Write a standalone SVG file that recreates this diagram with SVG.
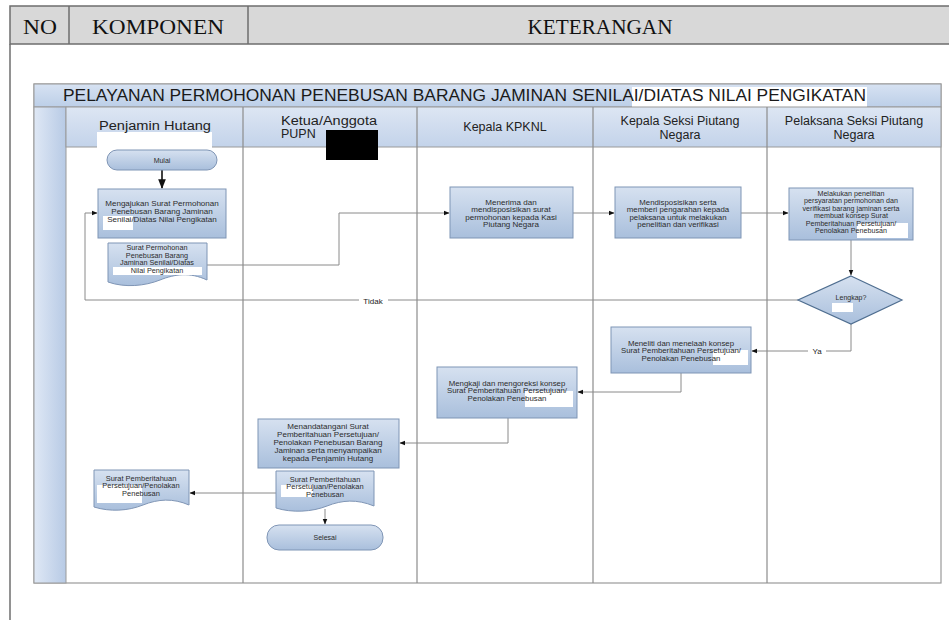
<svg xmlns="http://www.w3.org/2000/svg" width="949" height="620" viewBox="0 0 949 620">
<defs>
<linearGradient id="boxg" x1="0" y1="0" x2="0" y2="1"><stop offset="0" stop-color="#d6e1f0"/><stop offset="1" stop-color="#a9bfdc"/></linearGradient>
<linearGradient id="bandg" x1="0" y1="0" x2="0" y2="1"><stop offset="0" stop-color="#d7e2f2"/><stop offset="1" stop-color="#bccfe8"/></linearGradient>
<linearGradient id="laneg" x1="0" y1="0" x2="0" y2="1"><stop offset="0" stop-color="#dde6f3"/><stop offset="1" stop-color="#c3d3ea"/></linearGradient>
<linearGradient id="stripg" x1="0" y1="0" x2="1" y2="0"><stop offset="0" stop-color="#dfe8f5"/><stop offset="1" stop-color="#b7cae5"/></linearGradient>
<marker id="arr" viewBox="0 0 10 10" refX="9" refY="5" markerWidth="6" markerHeight="6" orient="auto"><path d="M0,1 L10,5 L0,9 Z" fill="#111"/></marker>
</defs>
<style>
.hdr{font-family:"Liberation Serif",serif;font-size:21px;fill:#111;text-anchor:middle}
.title{font-family:"Liberation Sans",Arial,sans-serif;font-size:16px;fill:#1a1a1a}
.lane{font-family:"Liberation Sans",Arial,sans-serif;font-size:12.5px;fill:#222;text-anchor:middle}
.bx{fill:url(#boxg);stroke:#7f95b5;stroke-width:1}
.t{font-family:"Liberation Sans",Arial,sans-serif;font-size:7px;fill:#2c2c2c;text-anchor:middle}
.w{fill:#ffffff}
.c{fill:none;stroke:#8a8a8a;stroke-width:1;marker-end:url(#arr)}
.lbl{font-family:"Liberation Sans",Arial,sans-serif;font-size:8px;fill:#222;text-anchor:middle}
.div{stroke:#8c8c8c;stroke-width:1.2}
</style>
<rect x="0" y="0" width="949" height="620" fill="#ffffff"/>
<g id="table">
<rect x="10" y="6" width="960" height="38" fill="#d8d8d8" stroke="#6e6e6e" stroke-width="1.5"/>
<line x1="69" y1="6" x2="69" y2="44" stroke="#6e6e6e" stroke-width="1.5"/>
<line x1="248" y1="6" x2="248" y2="44" stroke="#6e6e6e" stroke-width="1.5"/>
<line x1="10" y1="44" x2="10" y2="620" stroke="#6e6e6e" stroke-width="1.5"/>
<text class="hdr" x="40" y="34" textLength="34" lengthAdjust="spacingAndGlyphs">NO</text>
<text class="hdr" x="158" y="34" textLength="132" lengthAdjust="spacingAndGlyphs">KOMPONEN</text>
<text class="hdr" x="600" y="34" textLength="145" lengthAdjust="spacingAndGlyphs">KETERANGAN</text>
</g>
<g id="pool">
<rect x="34" y="84" width="907" height="499" fill="#ffffff" stroke="#9a9a9a" stroke-width="1.2"/>
<rect x="34" y="84" width="907" height="23" fill="url(#bandg)" stroke="#9a9a9a" stroke-width="1"/>
<rect x="632" y="87" width="235" height="20" class="w"/>
<text class="title" x="63" y="101" textLength="803" lengthAdjust="spacingAndGlyphs">PELAYANAN PERMOHONAN PENEBUSAN BARANG JAMINAN SENILAI/DIATAS NILAI PENGIKATAN</text>
<rect x="34" y="107" width="32" height="476" fill="url(#stripg)" stroke="#9a9a9a" stroke-width="1"/>
<rect x="66" y="107" width="875" height="40" fill="url(#laneg)" stroke="#9a9a9a" stroke-width="1"/>
<line class="div" x1="243" y1="107" x2="243" y2="583"/>
<line class="div" x1="417" y1="107" x2="417" y2="583"/>
<line class="div" x1="593" y1="107" x2="593" y2="583"/>
<line class="div" x1="767" y1="107" x2="767" y2="583"/>
<rect x="97" y="132" width="115" height="20" class="w"/>
<text class="lane" x="155" y="130" textLength="112" lengthAdjust="spacingAndGlyphs">Penjamin Hutang</text>
<text class="lane" x="281" y="125" style="text-anchor:start" textLength="96" lengthAdjust="spacingAndGlyphs">Ketua/Anggota</text>
<text class="lane" x="281" y="138" style="text-anchor:start">PUPN</text>
<rect x="326" y="130" width="52" height="30" fill="#000000"/>
<text class="lane" x="505" y="131">Kepala KPKNL</text>
<text class="lane" x="680" y="125">Kepala Seksi Piutang</text>
<text class="lane" x="680" y="139">Negara</text>
<text class="lane" x="854" y="125">Pelaksana Seksi Piutang</text>
<text class="lane" x="854" y="139">Negara</text>
</g>
<g id="connectors">
<line x1="162" y1="170" x2="162" y2="188" fill="none" stroke="#111" stroke-width="1.6" marker-end="url(#arr)"/>
<path class="c" d="M207,265 H339 V213 H449"/>
<path class="c" d="M573,213 H614"/>
<path class="c" d="M741,213 H788"/>
<path class="c" d="M851,240 V275"/>
<path class="c" d="M798,300 H85 V213 H97"/>
<path class="c" d="M851,324 V351 H752"/>
<path class="c" d="M681,373 V392 H578"/>
<path class="c" d="M508,418 V443 H400"/>
<path class="c" d="M325,509 V524"/>
<path class="c" d="M276,493 H190"/>
<rect x="359" y="295" width="29" height="11" class="w"/>
<text class="lbl" x="373" y="304">Tidak</text>
<rect x="808" y="346" width="18" height="10" class="w"/>
<text class="lbl" x="817" y="354">Ya</text>
</g>
<g id="mulai">
<rect x="107" y="150" width="110" height="20" rx="10" class="bx"/>
<text class="t" x="162" y="163">Mulai</text>
</g>
<g id="mengajukan">
<rect x="98" y="189" width="128" height="49" class="bx"/>
<rect x="103" y="216" width="30" height="14" class="w"/>
<g transform="translate(162,0) scale(1.15,1) translate(-162,0)">
<text class="t" x="162" y="206">Mengajukan Surat Permohonan</text>
<text class="t" x="162" y="214">Penebusan Barang Jaminan</text>
<text class="t" x="162" y="222">Senilai/Diatas Nilai Pengikatan</text>
</g>
</g>
<g id="doc-permohonan">
<path class="bx" d="M108,243 H207 V280 C190,272 175,274 160,280 C145,286 125,288 108,282 Z"/>
<rect x="113" y="267" width="89" height="8" class="w"/>
<g transform="translate(157,0) scale(1.12,1) translate(-157,0)">
<text class="t" x="157" y="250" style="font-size:6.5px">Surat Permohonan</text>
<text class="t" x="157" y="258" style="font-size:6.5px">Penebusan Barang</text>
<text class="t" x="157" y="265.5" style="font-size:6.5px">Jaminan Senilai/Diatas</text>
<text class="t" x="157" y="273" style="font-size:6.5px">Nilai Pengikatan</text>
</g>
</g>
<g id="menerima">
<rect x="450" y="187" width="123" height="51" class="bx"/>
<g transform="translate(511,0) scale(1.15,1) translate(-511,0)">
<text class="t" x="511" y="205">Menerima dan</text>
<text class="t" x="511" y="212.5">mendisposisikan surat</text>
<text class="t" x="511" y="220">permohonan kepada Kasi</text>
<text class="t" x="511" y="227.5">Piutang Negara</text>
</g>
</g>
<g id="mendisposisikan">
<rect x="615" y="187" width="126" height="51" class="bx"/>
<g transform="translate(678,0) scale(1.12,1) translate(-678,0)">
<text class="t" x="678" y="205">Mendisposisikan serta</text>
<text class="t" x="678" y="212.5">memberi pengarahan kepada</text>
<text class="t" x="678" y="220">pelaksana untuk melakukan</text>
<text class="t" x="678" y="227.5">penelitian dan verifikasi</text>
</g>
</g>
<g id="melakukan">
<rect x="789" y="188" width="124" height="52" class="bx"/>
<rect x="857" y="223" width="51" height="15" class="w"/>
<g transform="translate(851,0) scale(1.1,1) translate(-851,0)">
<text class="t" x="851" y="196" style="font-size:6.5px">Melakukan penelitian</text>
<text class="t" x="851" y="203.5" style="font-size:6.5px">persyaratan permohonan dan</text>
<text class="t" x="851" y="211" style="font-size:6.5px">verifikasi barang jaminan serta</text>
<text class="t" x="851" y="218.5" style="font-size:6.5px">membuat konsep Surat</text>
<text class="t" x="851" y="226" style="font-size:6.5px">Pemberitahuan Persetujuan/</text>
<text class="t" x="851" y="233.5" style="font-size:6.5px">Penolakan Penebusan</text>
</g>
</g>
<g id="lengkap">
<polygon points="851,276 902,300 851,324 798,300" fill="url(#boxg)" stroke="#4f6e90" stroke-width="1.2"/>
<rect x="832" y="303" width="21" height="9" class="w"/>
<text class="t" x="851" y="300">Lengkap?</text>
</g>
<g id="meneliti">
<rect x="611" y="327" width="140" height="46" class="bx"/>
<rect x="713" y="350" width="35" height="15" class="w"/>
<g transform="translate(681,0) scale(1.12,1) translate(-681,0)">
<text class="t" x="681" y="346">Meneliti dan menelaah konsep</text>
<text class="t" x="681" y="353.5">Surat Pemberitahuan Persetujuan/</text>
<text class="t" x="681" y="361">Penolakan Penebusan</text>
</g>
</g>
<g id="mengkaji">
<rect x="437" y="367" width="140" height="51" class="bx"/>
<rect x="525" y="391" width="48" height="16" class="w"/>
<g transform="translate(507,0) scale(1.12,1) translate(-507,0)">
<text class="t" x="507" y="386">Mengkaji dan mengoreksi konsep</text>
<text class="t" x="507" y="393.5">Surat Pemberitahuan Persetujuan/</text>
<text class="t" x="507" y="401">Penolakan Penebusan</text>
</g>
</g>
<g id="menandatangani">
<rect x="258" y="419" width="141" height="49" class="bx"/>
<g transform="translate(328,0) scale(1.15,1) translate(-328,0)">
<text class="t" x="328" y="429">Menandatangani Surat</text>
<text class="t" x="328" y="437">Pemberitahuan Persetujuan/</text>
<text class="t" x="328" y="445">Penolakan Penebusan Barang</text>
<text class="t" x="328" y="453">Jaminan serta menyampaikan</text>
<text class="t" x="328" y="461">kepada Penjamin Hutang</text>
</g>
</g>
<g id="doc-pemberitahuan-pupn">
<path class="bx" d="M276,471 H374 V506 C357,499 342,500 327,506 C312,512 292,513 276,508 Z"/>
<rect x="281" y="485" width="32" height="12" class="w"/>
<g transform="translate(325,0) scale(1.15,1) translate(-325,0)">
<text class="t" x="325" y="482" style="font-size:6.5px">Surat Pemberitahuan</text>
<text class="t" x="325" y="489.5" style="font-size:6.5px">Persetujuan/Penolakan</text>
<text class="t" x="325" y="497" style="font-size:6.5px">Penebusan</text>
</g>
</g>
<g id="selesai">
<rect x="267" y="525" width="116" height="25" rx="12" class="bx"/>
<text class="t" x="325" y="540">Selesai</text>
</g>
<g id="doc-pemberitahuan-penjamin">
<path class="bx" d="M94,470 H189 V505 C173,498 158,499 143,505 C128,511 110,512 94,507 Z"/>
<rect x="97" y="485" width="45" height="18" class="w"/>
<g transform="translate(141,0) scale(1.15,1) translate(-141,0)">
<text class="t" x="141" y="481" style="font-size:6.5px">Surat Pemberitahuan</text>
<text class="t" x="141" y="488.5" style="font-size:6.5px">Persetujuan/Penolakan</text>
<text class="t" x="141" y="496" style="font-size:6.5px">Penebusan</text>
</g>
</g>
</svg>
